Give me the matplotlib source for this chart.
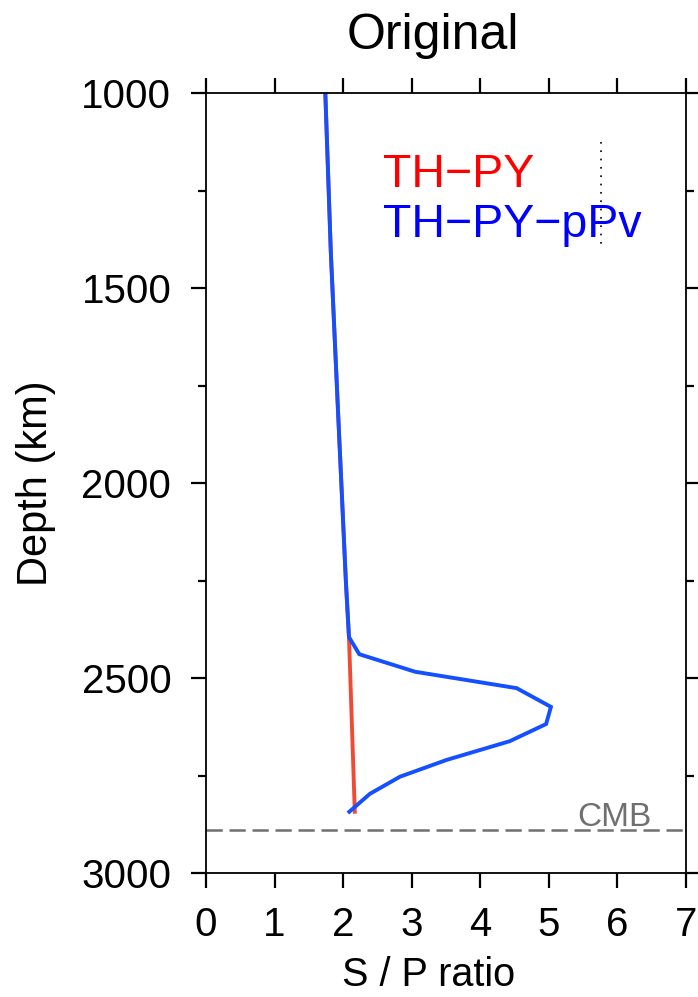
import numpy as np
import matplotlib
matplotlib.use("Agg")
import matplotlib.pyplot as plt

plt.rcParams['font.family'] = ['Liberation Sans', 'DejaVu Sans']

# S/P ratio profiles
depth_thpy = [1000, 1407, 1834, 2253, 2395, 2843]
ratio_thpy = [1.74, 1.82, 1.93, 2.04, 2.085, 2.17]

depth_ppv = [1000, 1407, 1834, 2253, 2395, 2439, 2484, 2526, 2574, 2618,
             2662, 2710, 2753, 2797, 2843]
ratio_ppv = [1.74, 1.82, 1.93, 2.04, 2.085, 2.235, 3.05, 4.53, 5.03, 4.96,
             4.43, 3.51, 2.83, 2.39, 2.09]

cmb_depth = 2891
x_ticks = [0, 1, 2, 3, 4, 5, 6, 7]
y_ticks = [1000, 1500, 2000, 2500, 3000]
y_minor = [1250, 1750, 2250, 2750]

fig = plt.figure(figsize=(6.98, 9.97), dpi=100)
ax = fig.add_axes([206 / 698, 1 - 873 / 997, 480 / 698, 780 / 997])

ax.plot(ratio_thpy, depth_thpy, color='#f04a35', lw=2.8, solid_joinstyle='miter')
ax.plot(ratio_ppv, depth_ppv, color='#1450ff', lw=2.8, solid_joinstyle='miter')

# core-mantle boundary
ax.axhline(cmb_depth, color='#707070', lw=1.8, dashes=(6.5, 2.7))
ax.text(6.5, 2880, 'CMB', color='#707070', fontsize=24,
        ha='right', va='baseline')

# dotted marker line
ax.plot([5.76, 5.76], [1126, 1397], color='black', lw=1.2, ls=(0, (1, 4)))

ax.text(2.58, 1240, 'TH\u2212PY', color='#ff0000', fontsize=33.5, va='baseline')
ax.text(2.58, 1368, 'TH\u2212PY\u2212pPv', color='#0000ff', fontsize=33.5,
        va='baseline')

ax.set_xlim(0, 7)
ax.set_ylim(3000, 1000)
ax.set_xticks(x_ticks)
ax.set_yticks(y_ticks)
ax.set_yticks(y_minor, minor=True)

for s in ax.spines.values():
    s.set_linewidth(1.3)

ax.tick_params(axis='both', which='major', direction='out', length=11,
               width=1.6, labelsize=29)
ax.tick_params(axis='y', which='minor', direction='out', length=6, width=1.6)
ax.tick_params(axis='x', which='major', pad=13, top=True)
ax.tick_params(axis='y', which='both', pad=14, right=True)

ax.set_ylabel('Depth (km)', fontsize=30, labelpad=18)

fig.text(429 / 698, 1 - 986 / 997, 'S / P ratio', fontsize=28.5, ha='center',
         va='baseline')
fig.text(433 / 698, 1 - 49 / 997, 'Original', fontsize=36, ha='center',
         va='baseline')

fig.savefig('out.png', dpi=100)
